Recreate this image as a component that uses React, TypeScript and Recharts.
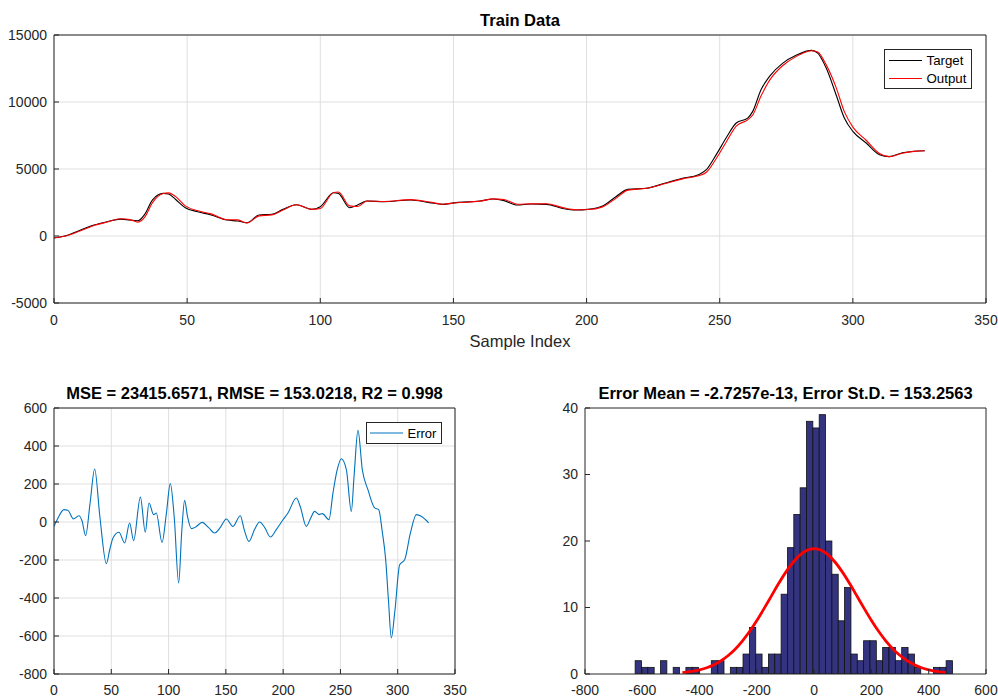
import React from 'react';
import { LineChart, Line, XAxis, YAxis, CartesianGrid, Legend, ComposedChart, Bar } from 'recharts';

// ---------- Train data (top) ----------
const sampleIdx = [0, 4, 10, 15, 20, 25, 28.5, 31.5, 34, 37, 41, 43, 45.6, 49.3, 54, 59, 65, 69, 72.5, 77, 81.8, 86, 91, 96.8, 100, 105, 106.8, 111, 114, 117.5, 124, 134, 141, 146, 151, 160, 165, 169, 174, 179, 185, 191, 196, 200.5, 206, 211, 215.5, 222.5, 230, 236, 242, 245, 248.7, 252.4, 256.2, 260.5, 262.4, 265.5, 268.7, 273.7, 278.7, 284.5, 286.8, 290, 293.7, 296.8, 300, 305, 310, 313.7, 318.6, 323, 327];
const targetVals = [-150, 0, 450, 820, 1070, 1260, 1190, 1140, 1600, 2700, 3180, 3130, 2740, 2110, 1810, 1570, 1190, 1120, 990, 1570, 1620, 1990, 2330, 1990, 2190, 3230, 3180, 2110, 2310, 2610, 2560, 2690, 2490, 2360, 2490, 2610, 2760, 2640, 2310, 2390, 2360, 2060, 1940, 1990, 2240, 2930, 3480, 3560, 3980, 4300, 4580, 4950, 6070, 7310, 8430, 8800, 9300, 10910, 11910, 12900, 13480, 13850, 13650, 12530, 10540, 8800, 7810, 6940, 6070, 5920, 6210, 6330, 6360];
const outputVals = [-127, -25, 386, 777, 1043, 1285, 1222, 1039, 1388, 2494, 3170, 3217, 2955, 2245, 1880, 1650, 1212, 1205, 972, 1500, 1575, 1937, 2335, 1990, 2052, 3250, 3280, 2247, 2196, 2610, 2580, 2715, 2542, 2375, 2478, 2600, 2770, 2720, 2370, 2395, 2405, 2120, 1960, 1973, 2174, 2810, 3425, 3558, 3936, 4265, 4490, 4760, 5785, 6998, 8200, 8670, 9030, 10440, 11615, 12725, 13386, 13830, 13730, 12770, 11090, 9280, 8125, 7145, 6160, 5920, 6175, 6315, 6365];

// ---------- Error (bottom left) ----------
const errIdx = [0, 3.5, 8.7, 12, 17, 21.8, 24.5, 27.6, 31.5, 35.5, 40, 45.7, 48.5, 51.5, 56.7, 61.7, 66, 69.5, 75.4, 79.7, 82.9, 87, 89.3, 94.3, 98, 101.5, 105, 108.8, 111.5, 114, 116.5, 119.9, 124, 129.2, 135, 140.2, 145, 150.4, 156.2, 162.6, 166, 170.2, 175, 179.5, 184, 188.8, 194, 199.9, 204.2, 211.5, 215, 220.2, 224, 227.5, 231.3, 234.2, 240, 243.5, 247, 250.8, 255.2, 259.5, 262, 265.3, 269.1, 274, 279.9, 283.4, 286.5, 289.5, 292, 294.4, 297.5, 301.7, 306.1, 311, 316.3, 320.6, 327];
const errVals = [-23, 21, 65, 62, 16, 33, 5, -72, 100, 279, 30, -219, -150, -84, -54, -110, -5, -98, 131, -54, 100, 39, 47, -107, 40, 202, 20, -321, -50, 114, 30, -35, -25, -2, -30, -58, -30, 16, -23, 33, -40, -102, -40, 0, -30, -79, -40, 12, 47, 126, 80, -23, 20, 56, 39, 44, 12, 153, 270, 333, 275, 56, 250, 482, 275, 170, 74, 65, -50, -198, -420, -610, -470, -225, -198, -60, 39, 30, -5];

// ---------- Histogram (bottom right) ----------
const binCenters = [-613.9, -591.8, -569.6, -547.4, -525.3, -503.1, -481.0, -458.8, -436.6, -414.5, -392.3, -370.2, -348.0, -325.8, -303.7, -281.5, -259.4, -237.2, -215.0, -192.9, -170.7, -148.6, -126.4, -104.2, -82.1, -59.9, -37.8, -15.6, 6.6, 28.7, 50.9, 73.0, 95.2, 117.4, 139.5, 161.7, 183.8, 206.0, 228.2, 250.3, 272.5, 294.6, 316.8, 339.0, 361.1, 383.3, 405.4, 427.6, 449.8, 471.9];
const binCounts = [2, 1, 1, 0, 2, 0, 1, 0, 1, 1, 0, 0, 2, 2, 0, 1, 1, 3, 7, 3, 1, 3, 3, 12, 19, 24, 28, 38, 37, 39, 20, 15, 8, 13, 3, 2, 5, 5, 2, 4, 4, 2, 4, 3, 1, 0, 0, 1, 1, 2];
const fitX = [-460, -425, -400, -375, -350, -325, -300, -275, -250, -225, -200, -175, -150, -125, -100, -75, -50, -25, 0, 25, 50, 75, 100, 125, 150, 175, 200, 225, 250, 275, 300, 325, 350, 375, 400, 425, 460];
const fitY = [0.21, 0.40, 0.63, 0.94, 1.39, 1.99, 2.78, 3.77, 4.99, 6.42, 8.05, 9.83, 11.68, 13.52, 15.24, 16.73, 17.88, 18.61, 18.86, 18.61, 17.88, 16.73, 15.24, 13.52, 11.68, 9.83, 8.05, 6.42, 4.99, 3.77, 2.78, 1.99, 1.39, 0.94, 0.63, 0.40, 0.21];

// ---------- Ticks & labels ----------
const idxTicks = [0, 50, 100, 150, 200, 250, 300, 350];
const trainYTicks = [-5000, 0, 5000, 10000, 15000];
const errYTicks = [-800, -600, -400, -200, 0, 200, 400, 600];
const histXTicks = [-800, -600, -400, -200, 0, 200, 400, 600];
const histYTicks = [0, 10, 20, 30, 40];

const trainTitle = 'Train Data';
const trainXLabel = 'Sample Index';
const errTitle = 'MSE = 23415.6571, RMSE = 153.0218, R2 = 0.998';
const histTitle = 'Error Mean = -2.7257e-13, Error St.D. = 153.2563';

const trainData = sampleIdx.map((s, i) => ({ s, target: targetVals[i], output: outputVals[i] }));
const errData = errIdx.map((s, i) => ({ s, err: errVals[i] }));
const histData = binCenters.map((c, i) => ({ c, count: binCounts[i] }));
const fitData = fitX.map((c, i) => ({ c, fit: fitY[i] }));

const AX = '#262626';
const GRID = '#dfdfdf';
const FONT = "'Liberation Sans', Arial, Helvetica, sans-serif";
const tickStyle = { fontSize: 14, fill: AX };
const BIN_PX = 6.35; // width of one histogram bin on screen

const HistBar = (props: any) => {
  const { x, y, width, height } = props;
  if (!height || height <= 0) return null;
  const cx = x + width / 2;
  return (
    <rect x={cx - BIN_PX / 2} y={y} width={BIN_PX} height={height}
      fill="#333380" stroke="#111" strokeWidth={0.8} />
  );
};

const TrainLegend = () => (
  <svg width={88} height={41} style={{ display: 'block' }}>
    <rect x={0.5} y={0.5} width={87} height={39} fill="#fff" stroke={AX} strokeWidth={1} />
    <line x1={5} x2={38} y1={11.5} y2={11.5} stroke="#000" strokeWidth={1} />
    <text x={42.5} y={15.5} fontSize={13.3} fill="#000" fontFamily={FONT}>Target</text>
    <line x1={5} x2={38} y1={29.5} y2={29.5} stroke="#ff0000" strokeWidth={1} />
    <text x={42.5} y={34} fontSize={13.3} fill="#000" fontFamily={FONT}>Output</text>
  </svg>
);

const ErrLegend = () => (
  <svg width={76} height={22} style={{ display: 'block' }}>
    <rect x={0.5} y={0.5} width={75} height={21} fill="#fff" stroke={AX} strokeWidth={1} />
    <line x1={4} x2={37} y1={11} y2={11} stroke="#0072BD" strokeWidth={1} />
    <text x={41.5} y={16} fontSize={13} fill="#000" fontFamily={FONT}>Error</text>
  </svg>
);

export default function App() {
  return (
    <div style={{ position: 'absolute', left: 0, top: 0, width: 998, height: 700, background: '#fff', fontFamily: FONT }}>
      {/* Top chart */}
      <div style={{ position: 'absolute', left: 0, top: 0 }}>
        <LineChart width={998} height={350} data={trainData} margin={{ top: 34, right: 11, bottom: 0, left: 0 }}>
          <CartesianGrid stroke={GRID} strokeWidth={1} />
          <XAxis dataKey="s" type="number" domain={[0, 350]} ticks={idxTicks} interval={0} allowDataOverflow
            tickSize={-5} tickMargin={17} height={47} stroke={AX} tick={tickStyle}
            label={{ value: trainXLabel, position: 'insideBottom', offset: 3, fontSize: 16.5, fill: AX }} />
          <YAxis type="number" domain={[-5000, 15000]} ticks={trainYTicks} interval={0} allowDataOverflow
            tickSize={-5} tickMargin={12} width={54} stroke={AX} tick={tickStyle} />
          <XAxis xAxisId="top" orientation="top" type="number" domain={[0, 350]} ticks={idxTicks} interval={0}
            tickSize={-5} height={1} stroke={AX} tick={false} />
          <YAxis yAxisId="right" orientation="right" type="number" domain={[-5000, 15000]} ticks={trainYTicks} interval={0}
            tickSize={-5} width={1} stroke={AX} tick={false} />
          <Legend layout="horizontal" verticalAlign="middle" align="center"
            wrapperStyle={{ left: 884, top: 49, width: 88, height: 41 }} content={() => <TrainLegend />} />
          <Line type="monotone" dataKey="target" name="Target" stroke="#000" strokeWidth={1.1} dot={false} activeDot={false} isAnimationActive={false} />
          <Line type="monotone" dataKey="output" name="Output" stroke="#ff0000" strokeWidth={1.1} dot={false} activeDot={false} isAnimationActive={false} />
        </LineChart>
      </div>

      {/* Bottom-left chart */}
      <div style={{ position: 'absolute', left: 0, top: 400 }}>
        <LineChart width={470} height={300} data={errData} margin={{ top: 7, right: 14, bottom: 0, left: 0 }}>
          <CartesianGrid stroke={GRID} strokeWidth={1} />
          <XAxis dataKey="s" type="number" domain={[0, 350]} ticks={idxTicks} interval={0} allowDataOverflow
            tickSize={-5} tickMargin={16} height={26} stroke={AX} tick={tickStyle} />
          <YAxis type="number" domain={[-800, 600]} ticks={errYTicks} interval={0} allowDataOverflow
            tickSize={-5} tickMargin={12} width={54} stroke={AX} tick={tickStyle} />
          <XAxis xAxisId="top" orientation="top" type="number" domain={[0, 350]} ticks={idxTicks} interval={0}
            tickSize={-5} height={1} stroke={AX} tick={false} />
          <YAxis yAxisId="right" orientation="right" type="number" domain={[-800, 600]} ticks={errYTicks} interval={0}
            tickSize={-5} width={1} stroke={AX} tick={false} />
          <Legend layout="horizontal" verticalAlign="middle" align="center"
            wrapperStyle={{ left: 366, top: 22, width: 76, height: 22 }} content={() => <ErrLegend />} />
          <Line type="monotone" dataKey="err" name="Error" stroke="#0072BD" strokeWidth={1.1} dot={false} activeDot={false} isAnimationActive={false} />
        </LineChart>
      </div>

      {/* Bottom-right histogram */}
      <div style={{ position: 'absolute', left: 530, top: 400 }}>
        <ComposedChart width={468} height={300} data={histData} margin={{ top: 7, right: 11, bottom: 0, left: 0 }}>
          <XAxis dataKey="c" type="number" domain={[-800, 600]} ticks={histXTicks} interval={0} allowDataOverflow
            tickSize={-5} tickMargin={16} height={26} stroke={AX} tick={tickStyle} />
          <YAxis type="number" domain={[0, 40]} ticks={histYTicks} interval={0} allowDataOverflow
            tickSize={-5} tickMargin={12} width={55} stroke={AX} tick={tickStyle} />
          <XAxis xAxisId="top" orientation="top" type="number" domain={[-800, 600]} ticks={histXTicks} interval={0}
            tickSize={-5} height={1} stroke={AX} tick={false} />
          <YAxis yAxisId="right" orientation="right" type="number" domain={[0, 40]} ticks={histYTicks} interval={0}
            tickSize={-5} width={1} stroke={AX} tick={false} />
          <Bar dataKey="count" fill="#333380" shape={HistBar} isAnimationActive={false} />
          <Line data={fitData} dataKey="fit" type="monotone" stroke="#ff0000" strokeWidth={2.8} dot={false} activeDot={false} isAnimationActive={false} />
        </ComposedChart>
      </div>

      {/* Titles */}
      <svg width={998} height={700} style={{ position: 'absolute', left: 0, top: 0, pointerEvents: 'none' }}>
        <text x={520} y={26} textAnchor="middle" fontSize={16.5} fontWeight="bold" fill="#000" fontFamily={FONT}>{trainTitle}</text>
        <text x={254.5} y={399} textAnchor="middle" fontSize={16.5} fontWeight="bold" fill="#000" fontFamily={FONT}>{errTitle}</text>
        <text x={785.5} y={399} textAnchor="middle" fontSize={16.5} fontWeight="bold" fill="#000" fontFamily={FONT}>{histTitle}</text>
      </svg>
    </div>
  );
}
